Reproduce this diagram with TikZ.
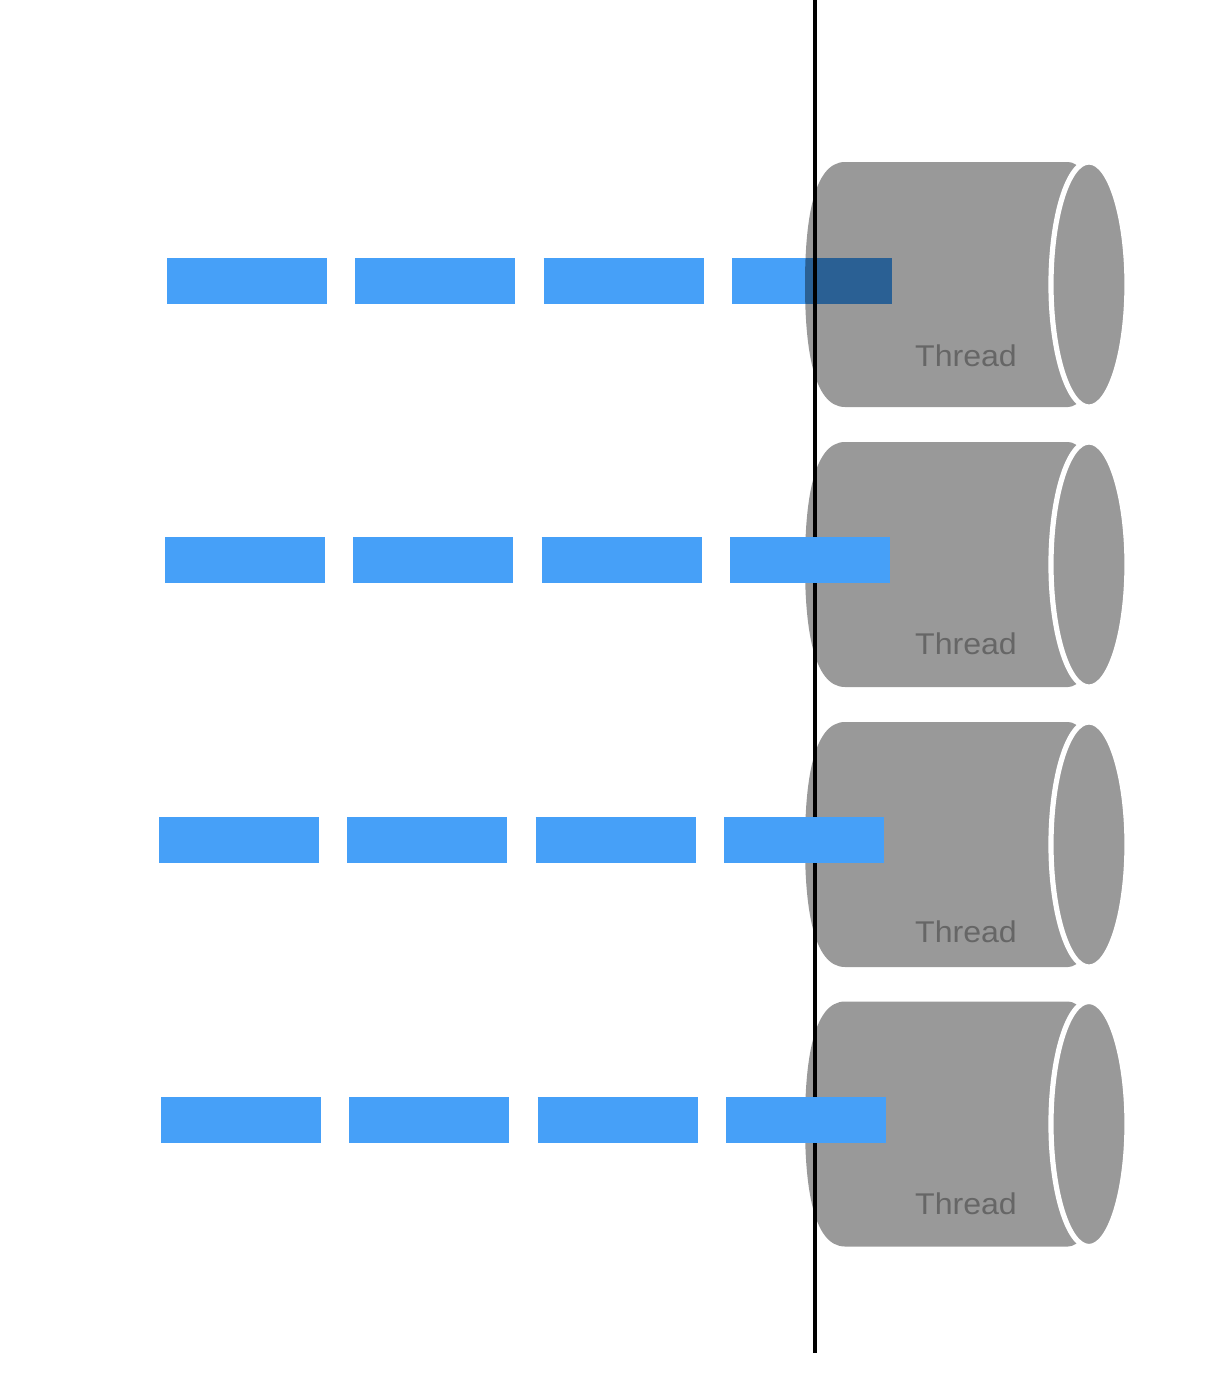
\documentclass[tikz,border=0pt]{standalone}
\usepackage{fontspec}
\setmainfont{Liberation Sans}
\usepackage{graphicx}
\usepackage{tikz}
\usetikzlibrary{
  calc,
  positioning
}

\definecolor{threadgray}{RGB}{153,153,153}
\definecolor{labelgray}{RGB}{102,102,102}
\definecolor{taskblue}{RGB}{70,160,248}

\tikzset{
  thread body/.style={fill=threadgray},
  thread face/.style={fill=threadgray, draw=white, line width=2.6pt},
  thread label/.style={text=labelgray, anchor=base, inner sep=0pt,
    font=\fontsize{15}{18}\selectfont},
  task line/.style={draw=taskblue, line width=23pt,
    dash pattern=on 80pt off 14.17pt},
  split line/.style={draw=black, line width=1.65pt}
}

\begin{document}
\begin{tikzpicture}[x=0.5pt, y=-0.5pt]
                \useasboundingbox (0,0) rectangle (1232,1378);

                % threads
                \foreach \row/\cy/\ty in {1/284.5/366, 2/564.5/654, 3/844.5/942, 4/1124/1214} {
                  % body
                  \fill[thread body] (845,{\cy-122.5}) -- (1068,{\cy-122.5})
                    .. controls (1089,{\cy-122.5}) and (1106,{\cy-67.7}) .. (1106,\cy)
                    .. controls (1106,{\cy+67.7}) and (1089,{\cy+122.5}) .. (1068,{\cy+122.5})
                    -- (845,{\cy+122.5})
                    .. controls (812,{\cy+122.5}) and (805,{\cy+58}) .. (805,\cy)
                    .. controls (805,{\cy-58}) and (812,{\cy-122.5}) .. cycle;
                  % front face
                  \coordinate (thread\row) at (1089,\cy);
                  \draw[thread face] (thread\row) ellipse [x radius=38, y radius=122.5];

                  \node[thread label] (label\row) at (966,\ty) {\scalebox{1.07}[1]{Thread}};
                }

                % split
                \coordinate (split top) at (815,0);
                \coordinate (split bottom) at (815,1353);
                \draw[split line] (split top) -- (split bottom);

                % tasks
                \foreach \row/\dx/\dy/\mode in {1/167/280.5/multiply, 2/165/560/normal, 3/159/840/normal, 4/161/1120/normal} {
                  \coordinate (task\row a) at (\dx,\dy);
                  \coordinate (task\row b) at ({\dx+725},\dy);
                  \draw[task line, blend mode=\mode] (task\row a) -- (task\row b);
                }
              \end{tikzpicture}
\end{document}
